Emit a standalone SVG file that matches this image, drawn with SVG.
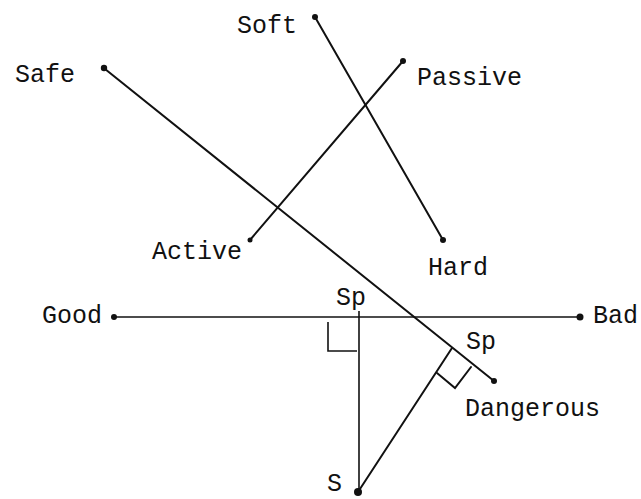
<svg xmlns="http://www.w3.org/2000/svg" width="641" height="499" viewBox="0 0 641 499">
<style>
.t{font-family:"Liberation Mono","DejaVu Sans Mono",monospace;font-size:25px;fill:#111}
.l{stroke:#111;stroke-width:2;fill:none;stroke-linecap:round}
.thin{stroke:#111;stroke-width:1.6;fill:none}
.d{fill:#111}
</style>
<rect width="641" height="499" fill="#fff"/>
<g id="connectors">
<line class="l" x1="315" y1="17" x2="443" y2="240"/>
<line class="l" x1="403" y1="61" x2="250" y2="240"/>
<line class="l" x1="105" y1="69" x2="494" y2="381"/>
<line class="thin" x1="114" y1="317" x2="580" y2="317"/>
<line class="thin" x1="359" y1="311" x2="359" y2="492"/>
<line class="l" x1="358" y1="492" x2="452" y2="348"/>
<polyline class="thin" points="328,322 328,351 357,351"/>
<polyline class="l" points="437,373 455,388 471,367"/>
</g>
<g id="soft"><circle class="d" cx="315" cy="17" r="3"/><text class="t" x="237" y="33">Soft</text></g>
<g id="hard"><circle class="d" cx="443" cy="240" r="3"/><text class="t" x="428" y="275">Hard</text></g>
<g id="passive"><circle class="d" cx="403" cy="61" r="3"/><text class="t" x="417" y="85">Passive</text></g>
<g id="active"><circle class="d" cx="250" cy="240" r="2.5"/><text class="t" x="152" y="259">Active</text></g>
<g id="safe"><circle class="d" cx="104" cy="68" r="3.2"/><text class="t" x="15" y="82">Safe</text></g>
<g id="dangerous"><circle class="d" cx="494" cy="381" r="3"/><text class="t" x="465" y="416">Dangerous</text></g>
<g id="good"><circle class="d" cx="114" cy="317" r="3"/><text class="t" x="42" y="323">Good</text></g>
<g id="bad"><circle class="d" cx="580" cy="317" r="3.5"/><text class="t" x="593" y="323">Bad</text></g>
<g id="sp1"><text class="t" x="336" y="305">Sp</text></g>
<g id="sp2"><text class="t" x="466" y="349">Sp</text></g>
<g id="s"><circle class="d" cx="358" cy="492" r="4"/><text class="t" x="327" y="491">S</text></g>
</svg>
